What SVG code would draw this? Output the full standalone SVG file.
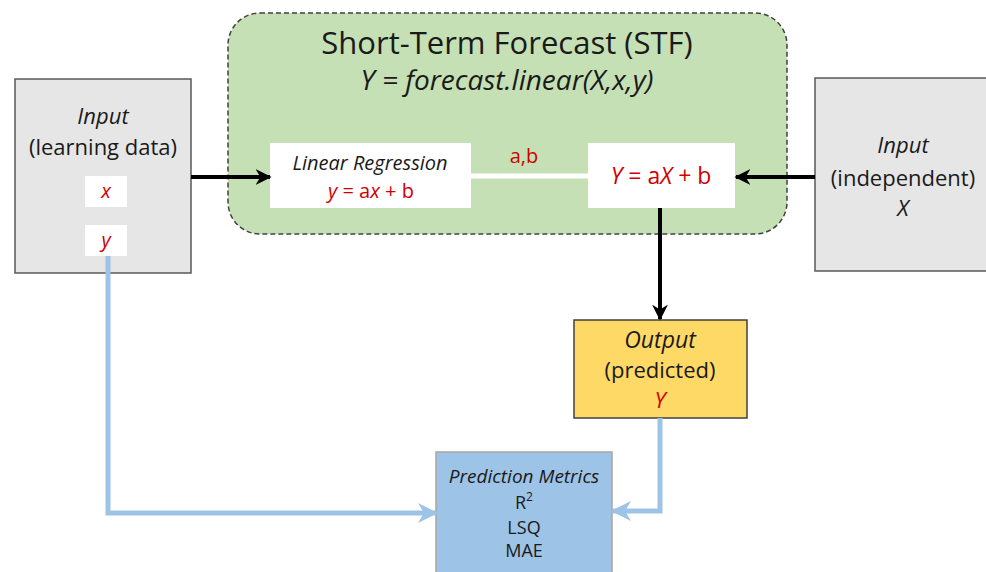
<svg xmlns="http://www.w3.org/2000/svg" width="986" height="572" viewBox="0 0 986 572">
<defs>
<style>
text{font-family:"Open Sans","Noto Sans","Liberation Sans",sans-serif;text-anchor:middle;fill:#1a1a1a}
.it{font-style:italic}
.red{fill:#d00000}
.gray{fill:#e6e6e6;stroke:#595959;stroke-width:1.5}
.blk{stroke:#000;stroke-width:4;fill:none}
.blu{stroke:#9dc3e6;stroke-width:5;fill:none}
</style>
<marker id="ab" viewBox="0 0 10 10" refX="9" refY="5" markerWidth="4" markerHeight="4" orient="auto" markerUnits="strokeWidth"><path d="M0,0 L10,5 L0,10 L3,5 Z" fill="#000"/></marker>
<marker id="ablu" viewBox="0 0 10 10" refX="9" refY="5" markerWidth="4" markerHeight="4" orient="auto" markerUnits="strokeWidth"><path d="M0,0 L10,5 L0,10 L3,5 Z" fill="#9dc3e6"/></marker>
</defs>
<rect width="986" height="572" fill="#fff"/>
<g id="stf">
<rect x="228" y="13" width="559" height="221" rx="32" fill="#c5e0b4" stroke="#404040" stroke-width="1.5" stroke-dasharray="5,3"/>
<text x="507" y="54" font-size="31">Short-Term Forecast (STF)</text>
<text x="507" y="90" font-size="28" class="it">Y = forecast.linear(X,x,y)</text>
</g>
<g id="linreg">
<rect x="270" y="143" width="201" height="65" fill="#fff"/>
<text x="370" y="170" font-size="20" class="it">Linear Regression</text>
<text x="371" y="198" font-size="20" class="red"><tspan class="it">y</tspan> = a<tspan class="it">x</tspan> + b</text>
</g>
<g id="predict">
<rect x="588" y="143" width="147" height="65" fill="#fff"/>
<text x="661" y="184" font-size="23" class="red"><tspan class="it">Y</tspan> = a<tspan class="it">X</tspan> + b</text>
</g>
<g id="input-learning">
<rect x="15" y="79" width="176" height="194" class="gray"/>
<text x="103" y="124" font-size="22" class="it">Input</text>
<text x="103" y="155" font-size="22">(learning data)</text>
<rect x="85" y="176" width="42" height="31" fill="#fff"/>
<text x="106" y="198" font-size="20" class="red it">x</text>
<rect x="85" y="225" width="42" height="31" fill="#fff"/>
<text x="106" y="247" font-size="20" class="red it">y</text>
</g>
<g id="input-independent">
<rect x="815" y="78" width="180" height="193" class="gray"/>
<text x="903" y="153" font-size="22" class="it">Input</text>
<text x="903" y="186" font-size="22">(independent)</text>
<text x="903" y="216" font-size="22" class="it">X</text>
</g>
<g id="output">
<rect x="574" y="320" width="173" height="98" fill="#ffd966" stroke="#404040" stroke-width="1.5"/>
<text x="660" y="348" font-size="23" class="it">Output</text>
<text x="660" y="378" font-size="22">(predicted)</text>
<text x="660" y="408" font-size="22" class="red it">Y</text>
</g>
<g id="metrics">
<rect x="436" y="452" width="176" height="130" fill="#9dc3e6" stroke="#a6a6a6" stroke-width="1.5"/>
<text x="524" y="483" font-size="19" class="it">Prediction Metrics</text>
<text x="524" y="509" font-size="18">R<tspan font-size="12" dy="-8">2</tspan></text>
<text x="524" y="534" font-size="18">LSQ</text>
<text x="524" y="557" font-size="18">MAE</text>
</g>
<g id="connectors">
<line x1="471" y1="176" x2="588" y2="176" stroke="#fff" stroke-width="5"/>
<text x="524" y="163" font-size="20" class="red">a,b</text>
<line x1="191" y1="177" x2="270" y2="177" class="blk" marker-end="url(#ab)"/>
<line x1="815" y1="177" x2="736" y2="177" class="blk" marker-end="url(#ab)"/>
<line x1="660" y1="208" x2="660" y2="319" class="blk" marker-end="url(#ab)"/>
<polyline points="108,256 108,513 436,513" class="blu" marker-end="url(#ablu)"/>
<polyline points="660,418 660,511 613,511" class="blu" marker-end="url(#ablu)"/>
</g>
</svg>
